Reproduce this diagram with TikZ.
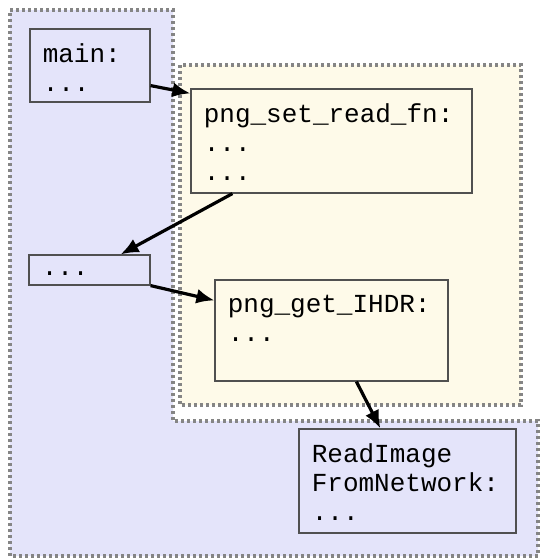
\documentclass[tikz,border=0pt]{standalone}
\usepackage{fontspec}
\newfontfamily\codefont{Liberation Mono}
\usetikzlibrary{arrows.meta,fit}

\definecolor{callerblue}{HTML}{E4E4FA}
\definecolor{libyellow}{HTML}{FEFAE9}
\definecolor{framegray}{HTML}{858585}
\definecolor{boxline}{HTML}{505050}

\tikzset{
  region/.style={draw=framegray, line width=1.7pt, dash pattern=on 1.5pt off 1.5pt},
  box/.style={draw=boxline, line width=0.6pt, inner sep=0pt},
  code/.style={anchor=north west, align=left, inner xsep=6.5pt, inner ysep=7.5pt,
    font=\codefont\fontsize{13pt}{14.5pt}\selectfont},
  link/.style={-{Latex[length=9pt,width=7.5pt]}, line width=1.6pt}
}

\begin{document}
\begin{tikzpicture}[x=0.5pt,y=-0.5pt]
    \useasboundingbox (0,0) rectangle (540,558);

    % 两块区域
    \draw[region, fill=callerblue] (10,10) -- (173,10) -- (173,421) -- (538,421)
        -- (538,556) -- (10,556) -- cycle;
    \draw[region, fill=libyellow] (180,65) rectangle (521,405);

    % 代码框
    \node[box, fill=callerblue, fit={(30,29) (150,102)},
        label={[code]north west:{main:\\...}}] (main) {};
    \node[box, fill=libyellow, fit={(191,89) (472,193)},
        label={[code]north west:{png\_set\_read\_fn:\\...\\...}}] (setfn) {};
    \node[box, fill=callerblue, fit={(29,255) (150,285)},
        label={[code,anchor=west,yshift=-2pt]west:{...}}] (dots) {};
    \node[box, fill=libyellow, fit={(215,280) (448,381)},
        label={[code]north west:{png\_get\_IHDR:\\...}}] (ihdr) {};
    \node[box, fill=callerblue, fit={(299,429) (516,533)},
        label={[code]north west:{ReadImage\\FromNetwork:\\...}}] (readimg) {};

    % 调用关系
    \draw[link] ([yshift=8.5pt]main.south east) -- ([yshift=-2.5pt]setfn.north west);
    \draw[link] ([xshift=21pt]setfn.south west) -- ([xshift=-15pt]dots.north east);
    \draw[link] (dots.south east) -- ([yshift=-10.5pt]ihdr.north west);
    \draw[link] ([xshift=71pt]ihdr.south west) -- ([xshift=41pt]readimg.north west);
\end{tikzpicture}
\end{document}
